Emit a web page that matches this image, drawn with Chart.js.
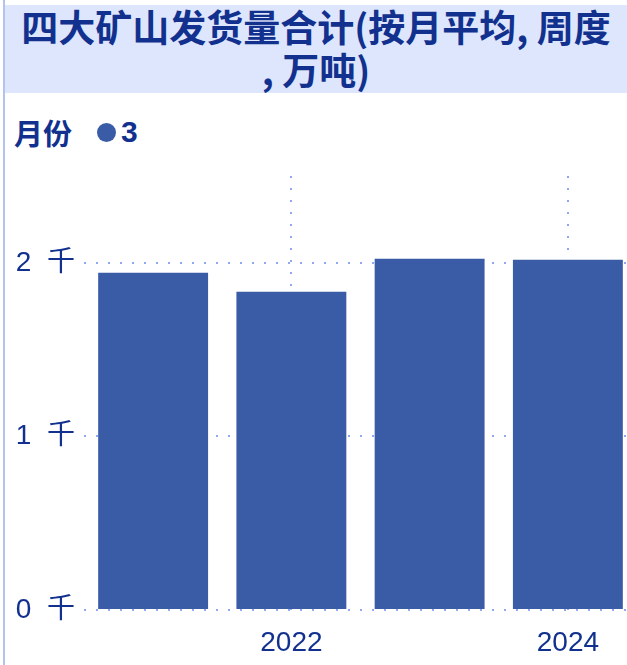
<!DOCTYPE html>
<html>
<head>
<meta charset="utf-8">
<script src="https://cdn.jsdelivr.net/npm/chart.js@4.4.1/dist/chart.umd.min.js"></script>
<style>
    html, body { margin: 0; padding: 0; background: #fff; width: 627px; height: 665px; overflow: hidden; position: relative; }
    #leftRule { position: absolute; left: 3px; top: 0; width: 2px; height: 665px; background: #b3c3ec; }
    #title {
        position: absolute; left: 5px; top: 5px; width: 622px; height: 88px;
        background: #dde6fc; color: #12318f; text-align: center;
        font: bold 37px "Noto Sans CJK SC", "Liberation Sans", sans-serif; line-height: 43px;
    }
    #legend {
        position: absolute; left: 14px; top: 110px; height: 44px; color: #12318f;
        font: bold 29px "Noto Sans CJK SC", "Liberation Sans", sans-serif;
        display: flex; align-items: center; white-space: nowrap;
    }
    #legend .dot { display: inline-block; width: 19px; height: 19px; border-radius: 50%; background: #3a5ba6; margin: 0 5px 0 25px; }
    #legend .num { font-family: "Liberation Sans", sans-serif; font-size: 30px; }
    #wrap { position: absolute; left: 5px; top: 100px; width: 640px; height: 565px; }
</style>
</head>
<body>
<div id="leftRule"></div>
<div id="title">四大矿山发货量合计(按月平均, 周度<br>, 万吨)</div>
<div id="legend"><span>月份</span><span class="dot"></span><span class="num">3</span></div>
<div id="wrap"><canvas id="shipChart" width="640" height="565"></canvas></div>

<script>
// 月份 = 3 : monthly average of weekly shipments, by year
var years = ['2021', '2022', '2023', '2024'];
var shipments = [1942, 1833, 2023, 2017];   // 万吨
var yTicks = [0, 1000, 2000];
var shownYears = ['2022', '2024'];

var barColor = '#3a5ba6';
var gridColor = '#8fa8f0';
var textColor = '#12318f';
var tickFont = { family: '"Liberation Sans", "Noto Sans CJK SC", sans-serif', size: 28 };

var ctx = document.getElementById('shipChart');

var chart = new Chart(ctx, {
    type: 'bar',
    data: {
        labels: years,
        datasets: [{
            label: '3',
            data: shipments,
            backgroundColor: barColor,
            borderWidth: 0,
            categoryPercentage: 1,
            barPercentage: 0.795
        }]
    },
    options: {
        responsive: false,
        animation: false,
        layout: {
            padding: { top: 76, right: 8, left: 0, bottom: 0 }
        },
        scales: {
            x: {
                grid: {
                    offset: false,
                    drawTicks: false,
                    lineWidth: 2,
                    // only the labelled years get a vertical line
                    color: (c) => (c.tick && shownYears.includes(c.tick.label) ? gridColor : 'transparent')
                },
                border: { display: false, dash: [2, 10] },
                ticks: {
                    autoSkip: false,
                    maxRotation: 0,
                    padding: 16,
                    color: textColor,
                    font: tickFont,
                    callback: function (value, index) {
                        var y = years[index];
                        return shownYears.includes(y) ? y : '';
                    }
                },
                afterFit: (scale) => { scale.height = 55; }
            },
            y: {
                min: 0,
                max: 2500,
                afterBuildTicks: (scale) => {
                    scale.ticks = yTicks.map((v) => ({ value: v }));
                },
                grid: {
                    drawTicks: false,
                    lineWidth: 2,
                    color: gridColor
                },
                border: { display: false, dash: [2, 10] },
                ticks: {
                    crossAlign: 'near',
                    padding: 9,
                    color: textColor,
                    font: tickFont,
                    callback: (v) => (v / 1000) + '  千'
                },
                afterFit: (scale) => { scale.width = 79; }
            }
        },
        plugins: {
            legend: { display: false },
            tooltip: { enabled: false }
        }
    }
});
</script>
</body>
</html>
